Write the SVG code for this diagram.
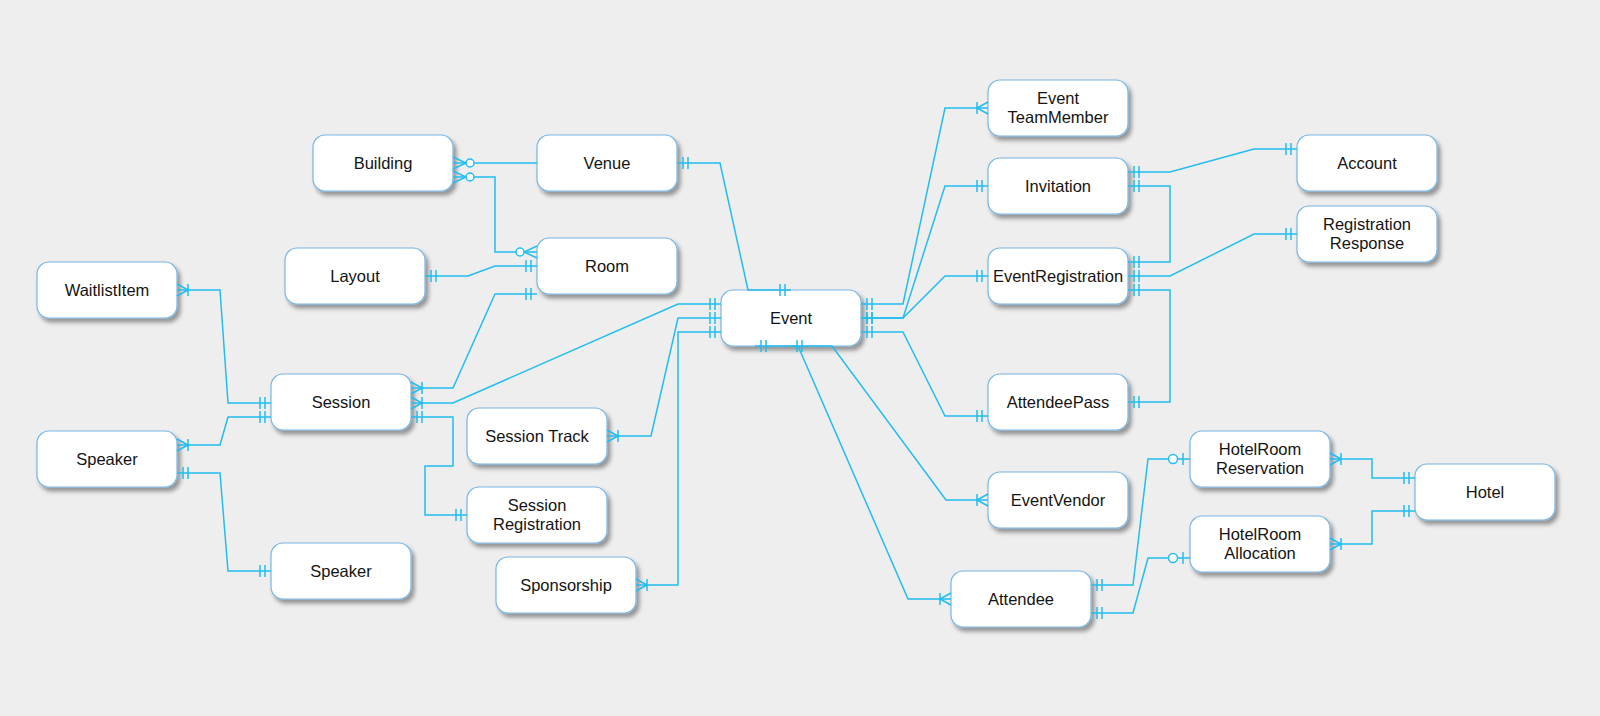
<svg xmlns="http://www.w3.org/2000/svg" width="1600" height="716" viewBox="0 0 1600 716">
<style>
.bg{fill:#eeeeee}
.node rect{fill:#ffffff;stroke:#78b6e4;stroke-width:1.2;filter:url(#sh)}
.node text{font-family:"Liberation Sans",Arial,sans-serif;font-size:16.5px;fill:#141414;text-anchor:middle}
.edges path{fill:none;stroke:#22bdf0;stroke-width:1.5}
.mk{fill:none;stroke:#22bdf0;stroke-width:1.5}
.mkc{fill:#ffffff;stroke:#22bdf0;stroke-width:1.5}
</style>
<defs>
<filter id="sh" x="-10%" y="-15%" width="130%" height="150%">
<feDropShadow dx="3" dy="4" stdDeviation="2.2" flood-color="#000" flood-opacity="0.38"/>
</filter>
<marker id="one" viewBox="-24 -12 30 24" markerWidth="30" markerHeight="24" refX="0" refY="0" markerUnits="userSpaceOnUse" orient="auto-start-reverse">
<path class="mk" d="M-6,-6V6M-11,-6V6"/>
</marker>
<marker id="many1" viewBox="-24 -12 30 24" markerWidth="30" markerHeight="24" refX="0" refY="0" markerUnits="userSpaceOnUse" orient="auto-start-reverse">
<path class="mk" d="M0,-6L-11,0L0,6M-11,-6V6"/>
</marker>
<marker id="many0" viewBox="-24 -12 30 24" markerWidth="30" markerHeight="24" refX="0" refY="0" markerUnits="userSpaceOnUse" orient="auto-start-reverse">
<path class="mk" d="M0,-6L-13,0L0,6"/>
<circle class="mkc" cx="-17" cy="0" r="4"/>
</marker>
<marker id="one0" viewBox="-24 -12 30 24" markerWidth="30" markerHeight="24" refX="0" refY="0" markerUnits="userSpaceOnUse" orient="auto-start-reverse">
<path class="mk" d="M-7,-6V6"/>
<circle class="mkc" cx="-17" cy="0" r="4.5"/>
</marker>
</defs>
<rect class="bg" x="0" y="0" width="1600" height="716"/>

<g id="building" class="node"><rect x="313" y="135" width="140" height="56" rx="12"/><text x="383" y="169">Building</text></g>
<g id="venue" class="node"><rect x="537" y="135" width="140" height="56" rx="12"/><text x="607" y="169">Venue</text></g>
<g id="room" class="node"><rect x="537" y="238" width="140" height="56" rx="12"/><text x="607" y="272">Room</text></g>
<g id="layout" class="node"><rect x="285" y="248" width="140" height="56" rx="12"/><text x="355" y="282">Layout</text></g>
<g id="waitlistitem" class="node"><rect x="37" y="262" width="140" height="56" rx="12"/><text x="107" y="296">WaitlistItem</text></g>
<g id="session" class="node"><rect x="271" y="374" width="140" height="56" rx="12"/><text x="341" y="408">Session</text></g>
<g id="speaker1" class="node"><rect x="37" y="431" width="140" height="56" rx="12"/><text x="107" y="465">Speaker</text></g>
<g id="speaker2" class="node"><rect x="271" y="543" width="140" height="56" rx="12"/><text x="341" y="577">Speaker</text></g>
<g id="event" class="node"><rect x="721" y="290" width="140" height="56" rx="12"/><text x="791" y="324">Event</text></g>
<g id="sessiontrack" class="node"><rect x="467" y="408" width="140" height="56" rx="12"/><text x="537" y="442">Session Track</text></g>
<g id="sessionregistration" class="node"><rect x="467" y="487" width="140" height="56" rx="12"/><text x="537" y="510.5">Session</text><text x="537" y="529.5">Registration</text></g>
<g id="sponsorship" class="node"><rect x="496" y="557" width="140" height="56" rx="12"/><text x="566" y="591">Sponsorship</text></g>
<g id="eventteammember" class="node"><rect x="988" y="80" width="140" height="56" rx="12"/><text x="1058" y="103.5">Event</text><text x="1058" y="122.5">TeamMember</text></g>
<g id="invitation" class="node"><rect x="988" y="158" width="140" height="56" rx="12"/><text x="1058" y="192">Invitation</text></g>
<g id="eventregistration" class="node"><rect x="988" y="248" width="140" height="56" rx="12"/><text x="1058" y="282">EventRegistration</text></g>
<g id="attendeepass" class="node"><rect x="988" y="374" width="140" height="56" rx="12"/><text x="1058" y="408">AttendeePass</text></g>
<g id="eventvendor" class="node"><rect x="988" y="472" width="140" height="56" rx="12"/><text x="1058" y="506">EventVendor</text></g>
<g id="attendee" class="node"><rect x="951" y="571" width="140" height="56" rx="12"/><text x="1021" y="605">Attendee</text></g>
<g id="hotelroomreservation" class="node"><rect x="1190" y="431" width="140" height="56" rx="12"/><text x="1260" y="454.5">HotelRoom</text><text x="1260" y="473.5">Reservation</text></g>
<g id="hotelroomallocation" class="node"><rect x="1190" y="516" width="140" height="56" rx="12"/><text x="1260" y="539.5">HotelRoom</text><text x="1260" y="558.5">Allocation</text></g>
<g id="hotel" class="node"><rect x="1415" y="464" width="140" height="56" rx="12"/><text x="1485" y="498">Hotel</text></g>
<g id="account" class="node"><rect x="1297" y="135" width="140" height="56" rx="12"/><text x="1367" y="169">Account</text></g>
<g id="registrationresponse" class="node"><rect x="1297" y="206" width="140" height="56" rx="12"/><text x="1367" y="229.5">Registration</text><text x="1367" y="248.5">Response</text></g>

<g id="connectors" class="edges">
<path d="M453,163H537" marker-start="url(#many0)"/>
<path d="M453,177H495V252H537" marker-start="url(#many0)" marker-end="url(#many0)"/>
<path d="M425,276H468L495,266H537" marker-start="url(#one)" marker-end="url(#one)"/>
<path d="M411,388H453L495,294H537" marker-start="url(#many1)" marker-end="url(#one)"/>
<path d="M411,403H453L678,304H721" marker-start="url(#many1)" marker-end="url(#one)"/>
<path d="M411,417H453V466H425V515H467" marker-start="url(#one)" marker-end="url(#one)"/>
<path d="M177,290H220L228,403H271" marker-start="url(#many1)" marker-end="url(#one)"/>
<path d="M177,445H220L228,417H271" marker-start="url(#many1)" marker-end="url(#one)"/>
<path d="M177,473H220L228,571H271" marker-start="url(#one)" marker-end="url(#one)"/>
<path d="M607,436H651L678,318H721" marker-start="url(#many1)" marker-end="url(#one)"/>
<path d="M636,585H678V332H721" marker-start="url(#many1)" marker-end="url(#one)"/>
<path d="M677,163H720L748,290H791" marker-start="url(#one)" marker-end="url(#one)"/>
<path d="M861,304H903L945,108H988" marker-start="url(#one)" marker-end="url(#many1)"/>
<path d="M861,318H903L945,186H988" marker-start="url(#one)" marker-end="url(#one)"/>
<path d="M861,318H903L945,276H988" marker-start="url(#one)" marker-end="url(#one)"/>
<path d="M861,332H903L945,416H988" marker-start="url(#one)" marker-end="url(#one)"/>
<path d="M755,346H832L946,500H988" marker-start="url(#one)" marker-end="url(#many1)"/>
<path d="M791,346H798L908,599H951" marker-start="url(#one)" marker-end="url(#many1)"/>
<path d="M1128,172H1170L1254,149H1297" marker-start="url(#one)" marker-end="url(#one)"/>
<path d="M1128,186H1170V262H1128" marker-start="url(#one)" marker-end="url(#one)"/>
<path d="M1128,276H1170L1254,234H1297" marker-start="url(#one)" marker-end="url(#one)"/>
<path d="M1128,290H1170V402H1128" marker-start="url(#one)" marker-end="url(#one)"/>
<path d="M1091,585H1133L1148,459H1190" marker-start="url(#one)" marker-end="url(#one0)"/>
<path d="M1091,613H1133L1148,558H1190" marker-start="url(#one)" marker-end="url(#one0)"/>
<path d="M1330,459H1372V478H1415" marker-start="url(#many1)" marker-end="url(#one)"/>
<path d="M1330,544H1372V511H1415" marker-start="url(#many1)" marker-end="url(#one)"/>
</g>
</svg>
